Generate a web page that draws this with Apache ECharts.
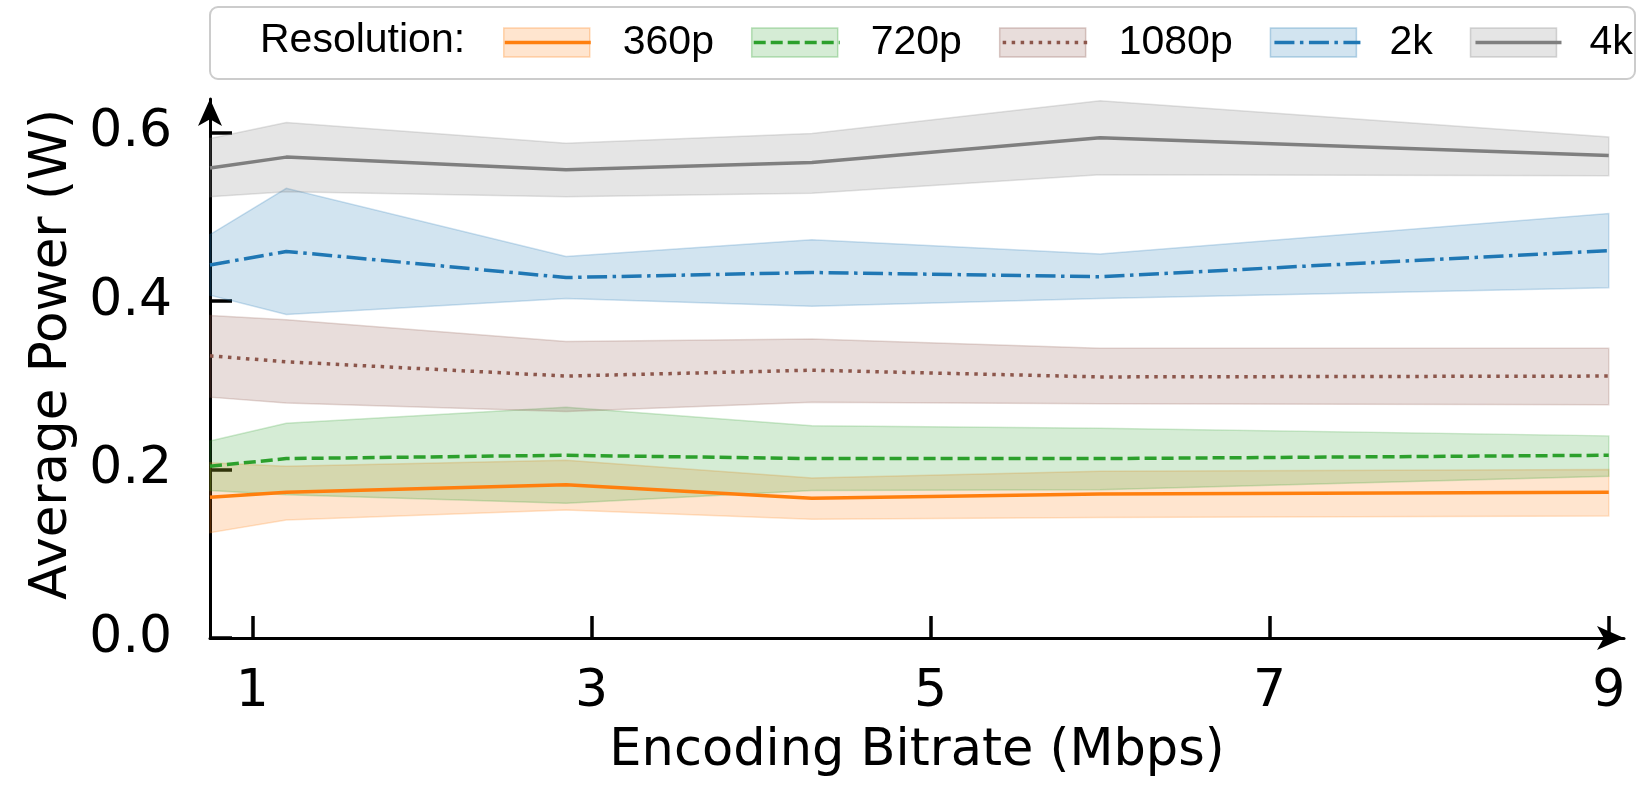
<!DOCTYPE html>
<html>
<head>
<meta charset="utf-8">
<script src="https://cdn.jsdelivr.net/npm/echarts@6/dist/echarts.min.js"></script>
<style>
html,body{margin:0;padding:0;background:#fff;}
#chart{width:1638px;height:790px;}
</style>
</head>
<body>
<div id="chart"></div>
<script>
// ---- data ----
const bitrates = [0.75, 1.2, 2.85, 4.3, 6.0, 9.0];
const resolutions = ['360p', '720p', '1080p', '2k', '4k'];

const mean360 = [0.167, 0.173, 0.182, 0.166, 0.171, 0.173];
const low360  = [0.125, 0.140, 0.152, 0.141, 0.143, 0.145];
const high360 = [0.208, 0.204, 0.211, 0.190, 0.198, 0.200];

const mean720 = [0.204, 0.213, 0.217, 0.213, 0.213, 0.217];
const low720  = [0.175, 0.170, 0.160, 0.175, 0.176, 0.192];
const high720 = [0.234, 0.255, 0.274, 0.252, 0.249, 0.240];

const mean1080 = [0.335, 0.328, 0.311, 0.318, 0.310, 0.311];
const low1080  = [0.286, 0.279, 0.269, 0.280, 0.278, 0.277];
const high1080 = [0.383, 0.378, 0.352, 0.355, 0.344, 0.344];

const mean2k = [0.443, 0.459, 0.428, 0.434, 0.429, 0.460];
const low2k  = [0.407, 0.384, 0.403, 0.394, 0.403, 0.416];
const high2k = [0.479, 0.534, 0.453, 0.473, 0.456, 0.504];

const mean4k = [0.558, 0.571, 0.556, 0.5645, 0.594, 0.573];
const low4k  = [0.524, 0.530, 0.524, 0.528, 0.550, 0.549];
const high4k = [0.593, 0.612, 0.5875, 0.599, 0.638, 0.595];

const xTicks = [1, 3, 5, 7, 9];
const yTicks = [0, 0.2, 0.4, 0.6];

// ---- styles ----
const means = [mean360, mean720, mean1080, mean2k, mean4k];
const lows = [low360, low720, low1080, low2k, low4k];
const highs = [high360, high720, high1080, high2k, high4k];
const rgb = [[255,127,14],[44,160,44],[140,86,75],[31,119,180],[127,127,127]];
const dashes = ['solid', [12,5], [3.5,5.5], [20,5.5,3.5,5.5], 'solid'];
const rgba = (c, a) => `rgba(${c[0]},${c[1]},${c[2]},${a})`;

const series = [];
resolutions.forEach((r, k) => {
  const c = rgb[k];
  series.push({
    type: 'custom', name: r, silent: true, z: 1,
    data: bitrates.map((x, i) => [x, lows[k][i], highs[k][i]]),
    encode: { x: 0, y: [1, 2] },
    renderItem: (params, api) => {
      if (params.dataIndex !== 0) return null;
      const upper = bitrates.map((x, i) => api.coord([x, highs[k][i]]));
      const lower = bitrates.map((x, i) => api.coord([x, lows[k][i]])).reverse();
      return {
        type: 'polygon',
        shape: { points: upper.concat(lower) },
        style: { fill: rgba(c, 0.2), stroke: rgba(c, 0.22), lineWidth: 1.5 }
      };
    }
  });
});
resolutions.forEach((r, k) => {
  const c = rgb[k];
  series.push({
    type: 'line', name: r + ' ',
    data: bitrates.map((x, i) => [x, means[k][i]]),
    symbol: 'none', silent: true, clip: false, z: 3,
    lineStyle: { color: rgba(c, 1), width: 3.5, type: dashes[k] }
  });
});

const axisFont = 'DejaVu Sans';
const legendFont = 'Liberation Sans';
const legendCommon = {
  orient: 'horizontal', left: 503, top: 22, padding: 0,
  itemWidth: 86, itemHeight: 29, itemGap: 37,
  selectedMode: false,
  formatter: n => '{s|}' + n.trim(),
};

const chart = echarts.init(document.getElementById('chart'), null, { renderer: 'canvas' });
chart.setOption({
  animation: false,
  backgroundColor: '#fff',
  grid: { left: 210, right: 14, top: 99, bottom: 152, containLabel: false },
  xAxis: {
    type: 'value', min: 0.75, max: 9.09,
    name: 'Encoding Bitrate (Mbps)', nameLocation: 'middle', nameGap: 88,
    nameTextStyle: { fontFamily: axisFont, fontSize: 51, color: '#000' },
    axisLine: { show: true, symbol: ['none', 'arrow'], symbolSize: [18, 27],
      lineStyle: { color: '#000', width: 3 } },
    axisTick: { show: true, inside: true, length: 22, customValues: xTicks,
      lineStyle: { color: '#000', width: 3.5 } },
    axisLabel: { customValues: xTicks, margin: 28, fontFamily: axisFont, fontSize: 52, color: '#000' },
    splitLine: { show: false }
  },
  yAxis: {
    type: 'value', min: 0, max: 0.64,
    name: 'Average Power (W)', nameLocation: 'middle', nameGap: 130,
    nameTextStyle: { fontFamily: axisFont, fontSize: 51.5, color: '#000', padding: [0, 0, 0, 28] },
    axisLine: { show: true, symbol: ['none', 'arrow'], symbolSize: [18, 27],
      lineStyle: { color: '#000', width: 3 } },
    axisTick: { show: true, inside: true, length: 22, customValues: yTicks,
      lineStyle: { color: '#000', width: 3.5 } },
    axisLabel: { customValues: yTicks, margin: 38, fontFamily: axisFont, fontSize: 52, color: '#000',
      formatter: v => v.toFixed(1) },
    splitLine: { show: false }
  },
  legend: [
    Object.assign({}, legendCommon, {
      z: 5,
      icon: 'rect',
      data: resolutions.map((r, k) => ({
        name: r,
        itemStyle: { color: rgba(rgb[k], 0.2), borderColor: rgba(rgb[k], 0.3), borderWidth: 1.5 }
      })),
      textStyle: { fontFamily: legendFont, fontSize: 41, color: '#000', rich: { s: { width: 28 } } }
    }),
    Object.assign({}, legendCommon, {
      z: 6,
      data: resolutions.map(r => r + ' '),
      itemStyle: { color: 'rgba(0,0,0,0)', borderWidth: 0 },
      lineStyle: { width: 3.5 },
      textStyle: { fontFamily: legendFont, fontSize: 41, color: 'rgba(0,0,0,0)', rich: { s: { width: 28 } } }
    })
  ],
  graphic: [
    { type: 'rect', z: 0, zlevel: 0, shape: { x: 210, y: 7, width: 1425, height: 72, r: 8 },
      style: { fill: '#fff', stroke: '#cccccc', lineWidth: 2 } },
    { type: 'text', z: 10, x: 260, y: 41,
      style: { text: 'Resolution:', fontFamily: legendFont, fontSize: 41, fill: '#000', verticalAlign: 'middle' } }
  ],
  series: series
});
</script>
</body>
</html>
